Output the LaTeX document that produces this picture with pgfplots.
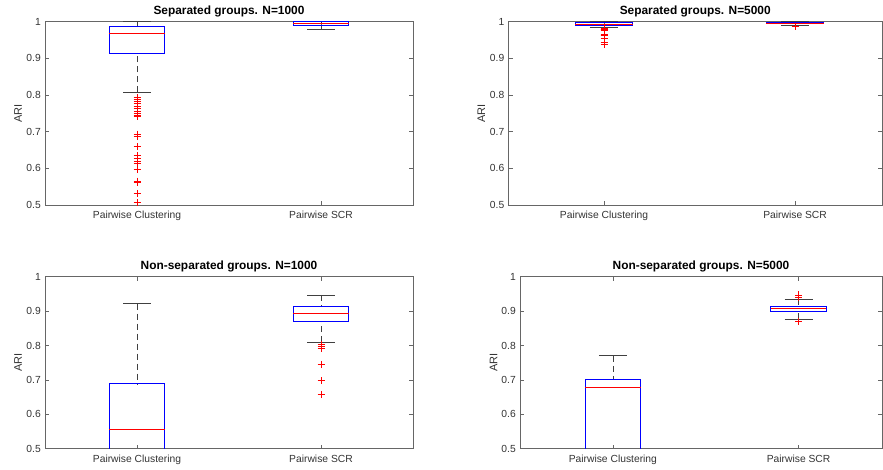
\documentclass[border=0pt]{standalone}
\usepackage{fontspec}
\setmainfont{Liberation Sans}
\usepackage{pgfplots}
\pgfplotsset{compat=1.18}
\usepgfplotslibrary{statistics}

\definecolor{mblue}{rgb}{0,0,1}
\definecolor{mred}{rgb}{1,0,0}

\pgfplotsset{
  mbox/.style={
    scale only axis, anchor=south west,
    xmin=0.5, ymin=0.5, ymax=1,
    xtick={1,2}, xticklabels={Pairwise Clustering, Pairwise SCR},
    ytick={0.5,0.6,0.7,0.8,0.9,1},
    yticklabels={0.5,0.6,0.7,0.8,0.9,1},
    tick align=inside, major tick length=4pt,
    axis line style={black!60, line width=0.6pt},
    tick style={black!60, line width=0.5pt},
    tick label style={font=\fontsize{10.3}{12}\selectfont, text=black!80},
    xticklabel style={inner sep=0pt, yshift=-6pt},
    yticklabel style={inner sep=0pt, xshift=-4pt},
    ylabel={ARI},
    every axis y label/.style={at={(axis description cs:-0.073,0.5)}, anchor=center, rotate=90, font=\fontsize{11}{13}\selectfont, text=black!80},
    every axis title/.style={at={(axis description cs:0.5,1)}, anchor=south, inner sep=0pt, yshift=4.5pt, font=\bfseries\fontsize{11.9}{14}\selectfont},
    clip mode=individual,
    boxplot/draw direction=y,
    boxplot/box extend=0.3,
    boxplot/whisker extend=0.15,
    boxplot/draw/box/.code={%
      \draw[draw=mblue, line width=0.9pt, solid]
        (boxplot box cs:\pgfplotsboxplotvalue{lower quartile},0) rectangle
        (boxplot box cs:\pgfplotsboxplotvalue{upper quartile},1);
    },
    boxplot/draw/median/.code={%
      \draw[draw=mred, line width=0.9pt, solid]
        (boxplot box cs:\pgfplotsboxplotvalue{median},0) --
        (boxplot box cs:\pgfplotsboxplotvalue{median},1);
    },
    boxplot/draw/lower whisker/.code={%
      \draw[draw=black!75, line width=0.7pt, dash pattern=on 6pt off 4pt]
        (boxplot box cs:\pgfplotsboxplotvalue{lower whisker},0.5) --
        (boxplot box cs:\pgfplotsboxplotvalue{lower quartile},0.5);
      \draw[draw=black!75, line width=0.7pt, solid]
        (boxplot whisker cs:\pgfplotsboxplotvalue{lower whisker},0) --
        (boxplot whisker cs:\pgfplotsboxplotvalue{lower whisker},1);
    },
    boxplot/draw/upper whisker/.code={%
      \draw[draw=black!75, line width=0.7pt, dash pattern=on 6pt off 4pt]
        (boxplot box cs:\pgfplotsboxplotvalue{upper whisker},0.5) --
        (boxplot box cs:\pgfplotsboxplotvalue{upper quartile},0.5);
      \draw[draw=black!75, line width=0.7pt, solid]
        (boxplot whisker cs:\pgfplotsboxplotvalue{upper whisker},0) --
        (boxplot whisker cs:\pgfplotsboxplotvalue{upper whisker},1);
    },
  },
  mplot/.style={color=mblue, solid, line width=0.6pt, mark=+, mark size=3.5pt,
    mark options={draw=mred, solid, line width=0.7pt}},
}

\begin{document}
\begin{tikzpicture}
\useasboundingbox (0,0) rectangle (883pt,469pt);

% ---------- Panel 1 ----------
\begin{axis}[mbox, at={(45pt,264pt)}, width=368pt, height=183.3pt, xmax=2.5,
  title={Separated groups. N=1000}]
\addplot[mplot, boxplot prepared={draw position=1,
  lower whisker=0.807, lower quartile=0.913, median=0.967,
  upper quartile=0.986, upper whisker=1.0}]
  coordinates {(1,0.793) (1,0.788) (1,0.782) (1,0.776) (1,0.770) (1,0.764)
    (1,0.755) (1,0.750) (1,0.745) (1,0.741) (1,0.693) (1,0.688) (1,0.659)
    (1,0.635) (1,0.628) (1,0.620) (1,0.614) (1,0.597) (1,0.565) (1,0.561)
    (1,0.532) (1,0.506)};
\addplot[mplot, boxplot prepared={draw position=2,
  lower whisker=0.979, lower quartile=0.991, median=0.995,
  upper quartile=0.9995, upper whisker=1.0}]
  coordinates {};
\end{axis}

% ---------- Panel 2 ----------
\begin{axis}[mbox, at={(508.5pt,264pt)}, width=373.5pt, height=183.3pt, xmax=2.455,
  title={Separated groups. N=5000}]
\addplot[mplot, boxplot prepared={draw position=1,
  lower whisker=0.984, lower quartile=0.990, median=0.992,
  upper quartile=0.998, upper whisker=1.0}]
  coordinates {(1,0.981) (1,0.980) (1,0.979) (1,0.978) (1,0.977)
    (1,0.966) (1,0.964) (1,0.962) (1,0.955) (1,0.945) (1,0.937)};
\addplot[mplot, boxplot prepared={draw position=2,
  lower whisker=0.991, lower quartile=0.995, median=0.996,
  upper quartile=0.998, upper whisker=1.0}]
  coordinates {(2,0.988)};
\end{axis}

% ---------- Panel 3 ----------
\begin{axis}[mbox, at={(45pt,20.3pt)}, width=368pt, height=172pt, xmax=2.5,
  title={Non-separated groups. N=1000}]
\addplot[mplot, boxplot prepared={draw position=1,
  lower whisker=0.30, lower quartile=0.45, median=0.557,
  upper quartile=0.689, upper whisker=0.922}]
  coordinates {};
\addplot[mplot, boxplot prepared={draw position=2,
  lower whisker=0.810, lower quartile=0.871, median=0.893,
  upper quartile=0.913, upper whisker=0.947}]
  coordinates {(2,0.803) (2,0.797) (2,0.791) (2,0.745) (2,0.698) (2,0.658)};
\end{axis}

% ---------- Panel 4 ----------
\begin{axis}[mbox, at={(520pt,20.3pt)}, width=362pt, height=172pt, xmax=2.449,
  title={Non-separated groups. N=5000}]
\addplot[mplot, boxplot prepared={draw position=1,
  lower whisker=0.35, lower quartile=0.45, median=0.677,
  upper quartile=0.702, upper whisker=0.770}]
  coordinates {};
\addplot[mplot, boxplot prepared={draw position=2,
  lower whisker=0.877, lower quartile=0.898, median=0.907,
  upper quartile=0.913, upper whisker=0.934}]
  coordinates {(2,0.947) (2,0.939) (2,0.870)};
\end{axis}
\end{tikzpicture}
\end{document}
